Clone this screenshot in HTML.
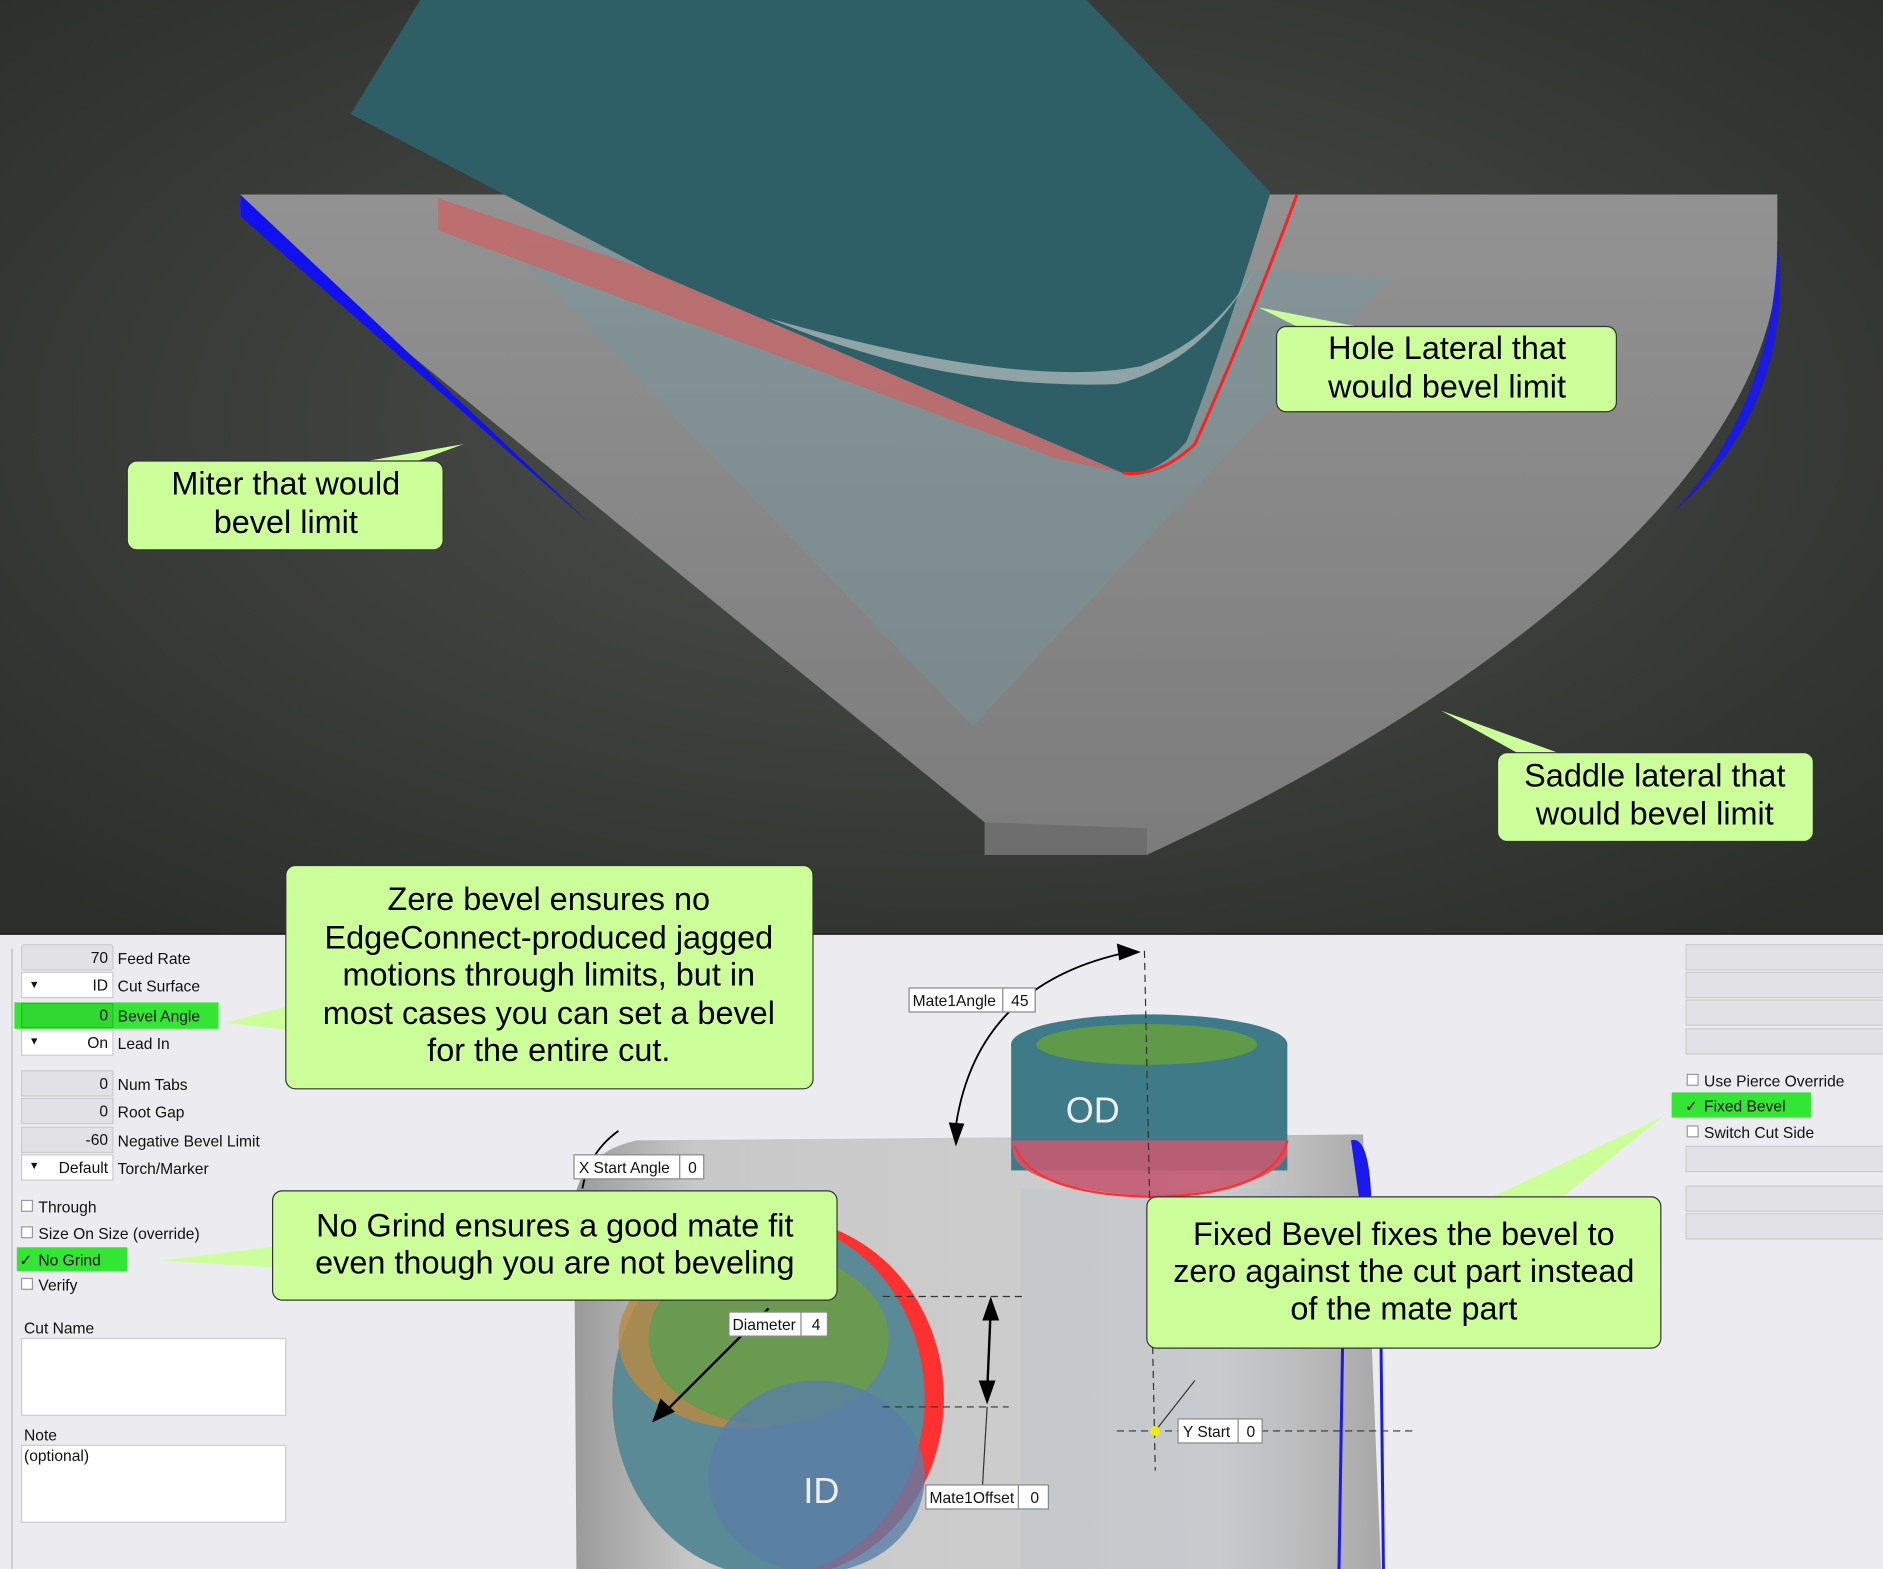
<!DOCTYPE html>
<html><head><meta charset="utf-8"><style>
html,body{margin:0;padding:0;background:#2f322e}
svg{display:block}
text{font-family:"Liberation Sans",sans-serif}
.c{font-size:27px;fill:#000;text-anchor:middle}
.f{font-size:13px;fill:#111}
.lb{font-size:13px;fill:#111}
</style></head><body>
<svg width="1883" height="1569" viewBox="0 0 1568 1307" preserveAspectRatio="none" xmlns="http://www.w3.org/2000/svg">
<defs>
<radialGradient id="bg" cx="0.5" cy="0.45" r="0.7">
<stop offset="0" stop-color="#4d504c"/><stop offset="1" stop-color="#2b2e2a"/></radialGradient>
<linearGradient id="pl" x1="0" y1="0" x2="0" y2="1"><stop offset="0" stop-color="#929292"/><stop offset="1" stop-color="#7c7c7c"/></linearGradient>
<linearGradient id="pipe" x1="0" y1="0" x2="1" y2="0"><stop offset="0" stop-color="#9a9a9a"/><stop offset="0.15" stop-color="#c8c8c8"/><stop offset="0.8" stop-color="#cfcfcf"/><stop offset="1" stop-color="#a8a8a8"/></linearGradient>
</defs>
<rect x="0" y="0" width="1568" height="778" fill="url(#bg)"/>
<!-- plate -->
<path d="M200,162 L1480,162 L1480,230 C1460,420 1200,600 955,712 L820,712 L820,685 L200,180 Z" fill="url(#pl)"/>
<path d="M820,685 L820,712 L955,712 L955,690 Z" fill="#6e6e6e"/>
<path d="M200,162 L200,180 L490,435 Z" fill="#1010f0"/>
<path d="M1480,200 C1480,300 1440,380 1390,430 L1395,425 C1470,360 1485,280 1482,220 Z" fill="#1a1ae0"/>
<!-- translucent teal region -->
<path d="M420,200 L1160,230 L810,605 Z" fill="#6f9ea3" opacity="0.35"/>
<!-- red band -->
<path d="M365,165 L540,225 L935,394 L880,382 L365,192 Z" fill="#d06060" opacity="0.7"/>
<!-- teal pipe -->
<path d="M350,0 L905,0 L1058,160 Q1025,270 988,368 Q962,397 935,394 L540,225 L292,95 Z" fill="#2e5e66"/>
<path d="M1080,162 Q1040,270 995,370 Q965,398 935,394" stroke="#ff2020" stroke-width="2.5" fill="none"/>
<path d="M640,265 Q850,325 950,305 Q1020,280 1055,205 Q1010,300 930,320 Q780,325 640,265 Z" fill="#9fb0b2" opacity="0.85"/>
<!-- callouts top -->
<path d="M1048,256 L1130,272 L1080,272 Z" fill="#ccff99"/>
<rect x="1063" y="272" width="283" height="71" rx="8" fill="#ccff99" stroke="#333" stroke-width="1"/>
<text class="c" x="1205" y="299">Hole Lateral that</text><text class="c" x="1205" y="331">would bevel limit</text>
<path d="M386,370 L300,385 L345,385 Z" fill="#ccff99"/>
<rect x="106" y="384" width="263" height="74" rx="8" fill="#ccff99" stroke="#333"/>
<text class="c" x="238" y="412">Miter that would</text><text class="c" x="238" y="444">bevel limit</text>
<path d="M1200,592 L1300,628 L1265,628 Z" fill="#ccff99"/>
<rect x="1247" y="627" width="263" height="74" rx="8" fill="#ccff99" stroke="#333"/>
<text class="c" x="1378" y="655">Saddle lateral that</text><text class="c" x="1378" y="687">would bevel limit</text>
<!-- bottom panel -->
<rect x="0" y="778" width="1568" height="529" fill="#ececf0"/>
<line x1="0" y1="778" x2="1568" y2="778" stroke="#222" stroke-width="1.5"/>
<line x1="10" y1="790" x2="10" y2="1307" stroke="#bbb"/>
<!-- pipe 3D -->
<path d="M530,950 L1135,945 L1150,1307 L480,1307 L478,1000 Q485,960 530,950 Z" fill="url(#pipe)"/>
<rect x="850" y="990" width="230" height="317" fill="#b8c4cc" opacity="0.35"/>
<path d="M1125,950 Q1140,945 1142,1000 L1132,1000 Z" fill="#1a1af0"/>
<line x1="1118" y1="1120" x2="1115" y2="1307" stroke="#1a1af0" stroke-width="2.5"/>
<line x1="1150" y1="1120" x2="1152" y2="1307" stroke="#1a1af0" stroke-width="2.5"/>
<!-- ID -->
<ellipse cx="648" cy="1165" rx="138" ry="150" fill="#ff3030"/>
<ellipse cx="640" cy="1165" rx="130" ry="148" fill="#5a8a96"/>
<ellipse cx="620" cy="1115" rx="105" ry="75" fill="#b98a40" opacity="0.8"/>
<ellipse cx="640" cy="1115" rx="100" ry="72" fill="#6a9a50"/>
<ellipse cx="680" cy="1230" rx="90" ry="80" fill="#5a7ea6" opacity="0.8"/>
<text x="684" y="1252" font-size="30" fill="#eee" text-anchor="middle" font-family="Liberation Sans">ID</text>
<!-- OD -->
<rect x="842" y="870" width="230" height="105" fill="#3f7a88"/>
<path d="M842,950 L1072,950 L1072,962 Q1060,990 960,997 Q860,990 845,965 Z" fill="#c45a72" opacity="0.9"/>
<path d="M845,955 Q860,995 960,997 Q1060,995 1072,950" stroke="#ff3030" stroke-width="2" fill="none"/>
<ellipse cx="957" cy="870" rx="115" ry="25" fill="#3f7a88"/>
<ellipse cx="955" cy="870" rx="92" ry="17" fill="#5e9a48"/>
<text x="910" y="935" font-size="30" fill="#eee" text-anchor="middle" font-family="Liberation Sans">OD</text>
<!-- dimension lines -->
<line x1="953" y1="792" x2="962" y2="1225" stroke="#333" stroke-dasharray="6,4"/>
<line x1="930" y1="1192" x2="1180" y2="1192" stroke="#333" stroke-dasharray="6,4"/>
<line x1="735" y1="1080" x2="855" y2="1080" stroke="#333" stroke-dasharray="6,4"/>
<line x1="735" y1="1172" x2="840" y2="1172" stroke="#333" stroke-dasharray="6,4"/>
<path d="M825,1090 L822,1160" stroke="#000" stroke-width="2"/>
<path d="M825,1080 L818,1100 L832,1100 Z M822,1170 L815,1150 L829,1150 Z"/>
<line x1="822" y1="1172" x2="818" y2="1240" stroke="#333"/>
<path d="M795,945 Q810,820 940,793" stroke="#000" stroke-width="1.5" fill="none"/>
<path d="M950,793 L930,786 L932,800 Z M796,955 L790,935 L803,936 Z"/>
<path d="M550,1180 L640,1090" stroke="#000" stroke-width="2"/>
<path d="M543,1185 L550,1165 L562,1176 Z"/>
<path d="M515,942 Q490,960 485,990" stroke="#000" stroke-width="1.5" fill="none"/>
<line x1="962" y1="1192" x2="995" y2="1150" stroke="#333"/>
<circle cx="962" cy="1192" r="4" fill="#ee0"/>
<!-- labels -->
<g class="lb">
<rect x="757" y="823" width="105" height="20" fill="#fff" stroke="#888"/><line x1="835" y1="823" x2="835" y2="843" stroke="#888"/>
<text x="760" y="838">Mate1Angle</text><text x="842" y="838">45</text>
<rect x="478" y="962" width="108" height="20" fill="#fff" stroke="#888"/><line x1="566" y1="962" x2="566" y2="982" stroke="#888"/>
<text x="482" y="977">X Start Angle</text><text x="573" y="977">0</text>
<rect x="607" y="1093" width="82" height="20" fill="#fff" stroke="#888"/><line x1="667" y1="1093" x2="667" y2="1113" stroke="#888"/>
<text x="610" y="1108">Diameter</text><text x="676" y="1108">4</text>
<rect x="771" y="1237" width="102" height="20" fill="#fff" stroke="#888"/><line x1="848" y1="1237" x2="848" y2="1257" stroke="#888"/>
<text x="774" y="1252">Mate1Offset</text><text x="858" y="1252">0</text>
<rect x="981" y="1182" width="70" height="20" fill="#fff" stroke="#888"/><line x1="1031" y1="1182" x2="1031" y2="1202" stroke="#888"/>
<text x="985" y="1197">Y Start</text><text x="1038" y="1197">0</text>
</g>
<!-- left form -->
<g class="f">
<rect x="18" y="787" width="76" height="21" fill="#e2e2e6" stroke="#ccc" rx="2"/><text x="90" y="802" text-anchor="end">70</text><text x="98" y="803">Feed Rate</text>
<rect x="18" y="810" width="76" height="21" fill="#fff" stroke="#ccc"/><text x="90" y="825" text-anchor="end">ID</text><text x="98" y="826">Cut Surface</text><text x="24" y="823" font-size="9">▼</text>
<rect x="12" y="835" width="170" height="22" fill="#33e633"/><rect x="18" y="836" width="76" height="20" fill="#2fd92f" stroke="#2ab82a"/><text x="90" y="850" text-anchor="end">0</text><text x="98" y="851">Bevel Angle</text>
<rect x="18" y="858" width="76" height="21" fill="#fff" stroke="#ccc"/><text x="90" y="873" text-anchor="end">On</text><text x="98" y="874">Lead In</text><text x="24" y="870" font-size="9">▼</text>
<rect x="18" y="892" width="76" height="21" fill="#e2e2e6" stroke="#ccc"/><text x="90" y="907" text-anchor="end">0</text><text x="98" y="908">Num Tabs</text>
<rect x="18" y="915" width="76" height="21" fill="#e2e2e6" stroke="#ccc"/><text x="90" y="930" text-anchor="end">0</text><text x="98" y="931">Root Gap</text>
<rect x="18" y="939" width="76" height="21" fill="#e2e2e6" stroke="#ccc"/><text x="90" y="954" text-anchor="end">-60</text><text x="98" y="955">Negative Bevel Limit</text>
<rect x="18" y="962" width="76" height="21" fill="#fff" stroke="#ccc"/><text x="90" y="977" text-anchor="end">Default</text><text x="98" y="978">Torch/Marker</text><text x="24" y="974" font-size="9">▼</text>
<rect x="18" y="1000" width="9" height="9" fill="#fff" stroke="#999"/><text x="32" y="1010">Through</text>
<rect x="18" y="1022" width="9" height="9" fill="#fff" stroke="#999"/><text x="32" y="1032">Size On Size (override)</text>
<rect x="14" y="1039" width="92" height="20" fill="#33e633"/><text x="16" y="1054">✓</text><text x="32" y="1054">No Grind</text>
<rect x="18" y="1065" width="9" height="9" fill="#fff" stroke="#999"/><text x="32" y="1075">Verify</text>
<text x="20" y="1111">Cut Name</text>
<rect x="18" y="1115" width="220" height="64" fill="#fff" stroke="#ccc"/>
<text x="20" y="1200">Note</text>
<rect x="18" y="1204" width="220" height="64" fill="#fff" stroke="#ccc"/>
<text x="20" y="1217">(optional)</text>
</g>
<!-- right panel -->
<g class="f">
<rect x="1404" y="787" width="170" height="21" fill="#e2e2e6" stroke="#ccc"/>
<rect x="1404" y="810" width="170" height="21" fill="#e2e2e6" stroke="#ccc"/>
<rect x="1404" y="833" width="170" height="21" fill="#e2e2e6" stroke="#ccc"/>
<rect x="1404" y="857" width="170" height="21" fill="#e2e2e6" stroke="#ccc"/>
<rect x="1405" y="895" width="9" height="9" fill="#fff" stroke="#999"/><text x="1419" y="905">Use Pierce Override</text>
<rect x="1392" y="910" width="116" height="21" fill="#33e633"/><text x="1403" y="926">✓</text><text x="1419" y="926">Fixed Bevel</text>
<rect x="1405" y="938" width="9" height="9" fill="#fff" stroke="#999"/><text x="1419" y="948">Switch Cut Side</text>
<rect x="1404" y="955" width="170" height="21" fill="#e2e2e6" stroke="#ccc"/>
<rect x="1404" y="988" width="170" height="21" fill="#e2e2e6" stroke="#ccc"/>
<rect x="1404" y="1011" width="170" height="21" fill="#e2e2e6" stroke="#ccc"/>
</g>
<!-- bottom callouts -->
<path d="M188,852 L240,838 L240,858 Z" fill="#ccff99"/>
<rect x="238" y="721" width="439" height="186" rx="8" fill="#ccff99" stroke="#333"/>
<text class="c" x="457" y="758">Zere bevel ensures no</text>
<text class="c" x="457" y="790">EdgeConnect-produced jagged</text>
<text class="c" x="457" y="821">motions through limits, but in</text>
<text class="c" x="457" y="853">most cases you can set a bevel</text>
<text class="c" x="457" y="884">for the entire cut.</text>
<path d="M136,1050 L230,1038 L230,1056 Z" fill="#ccff99"/>
<rect x="227" y="992" width="470" height="91" rx="8" fill="#ccff99" stroke="#333"/>
<text class="c" x="462" y="1030">No Grind ensures a good mate fit</text>
<text class="c" x="462" y="1061">even though you are not beveling</text>
<path d="M1385,930 L1240,998 L1300,998 Z" fill="#ccff99"/>
<rect x="955" y="997" width="428" height="126" rx="8" fill="#ccff99" stroke="#333"/>
<text class="c" x="1169" y="1037">Fixed Bevel fixes the bevel to</text>
<text class="c" x="1169" y="1068">zero against the cut part instead</text>
<text class="c" x="1169" y="1099">of the mate part</text>
</svg>
</body></html>
